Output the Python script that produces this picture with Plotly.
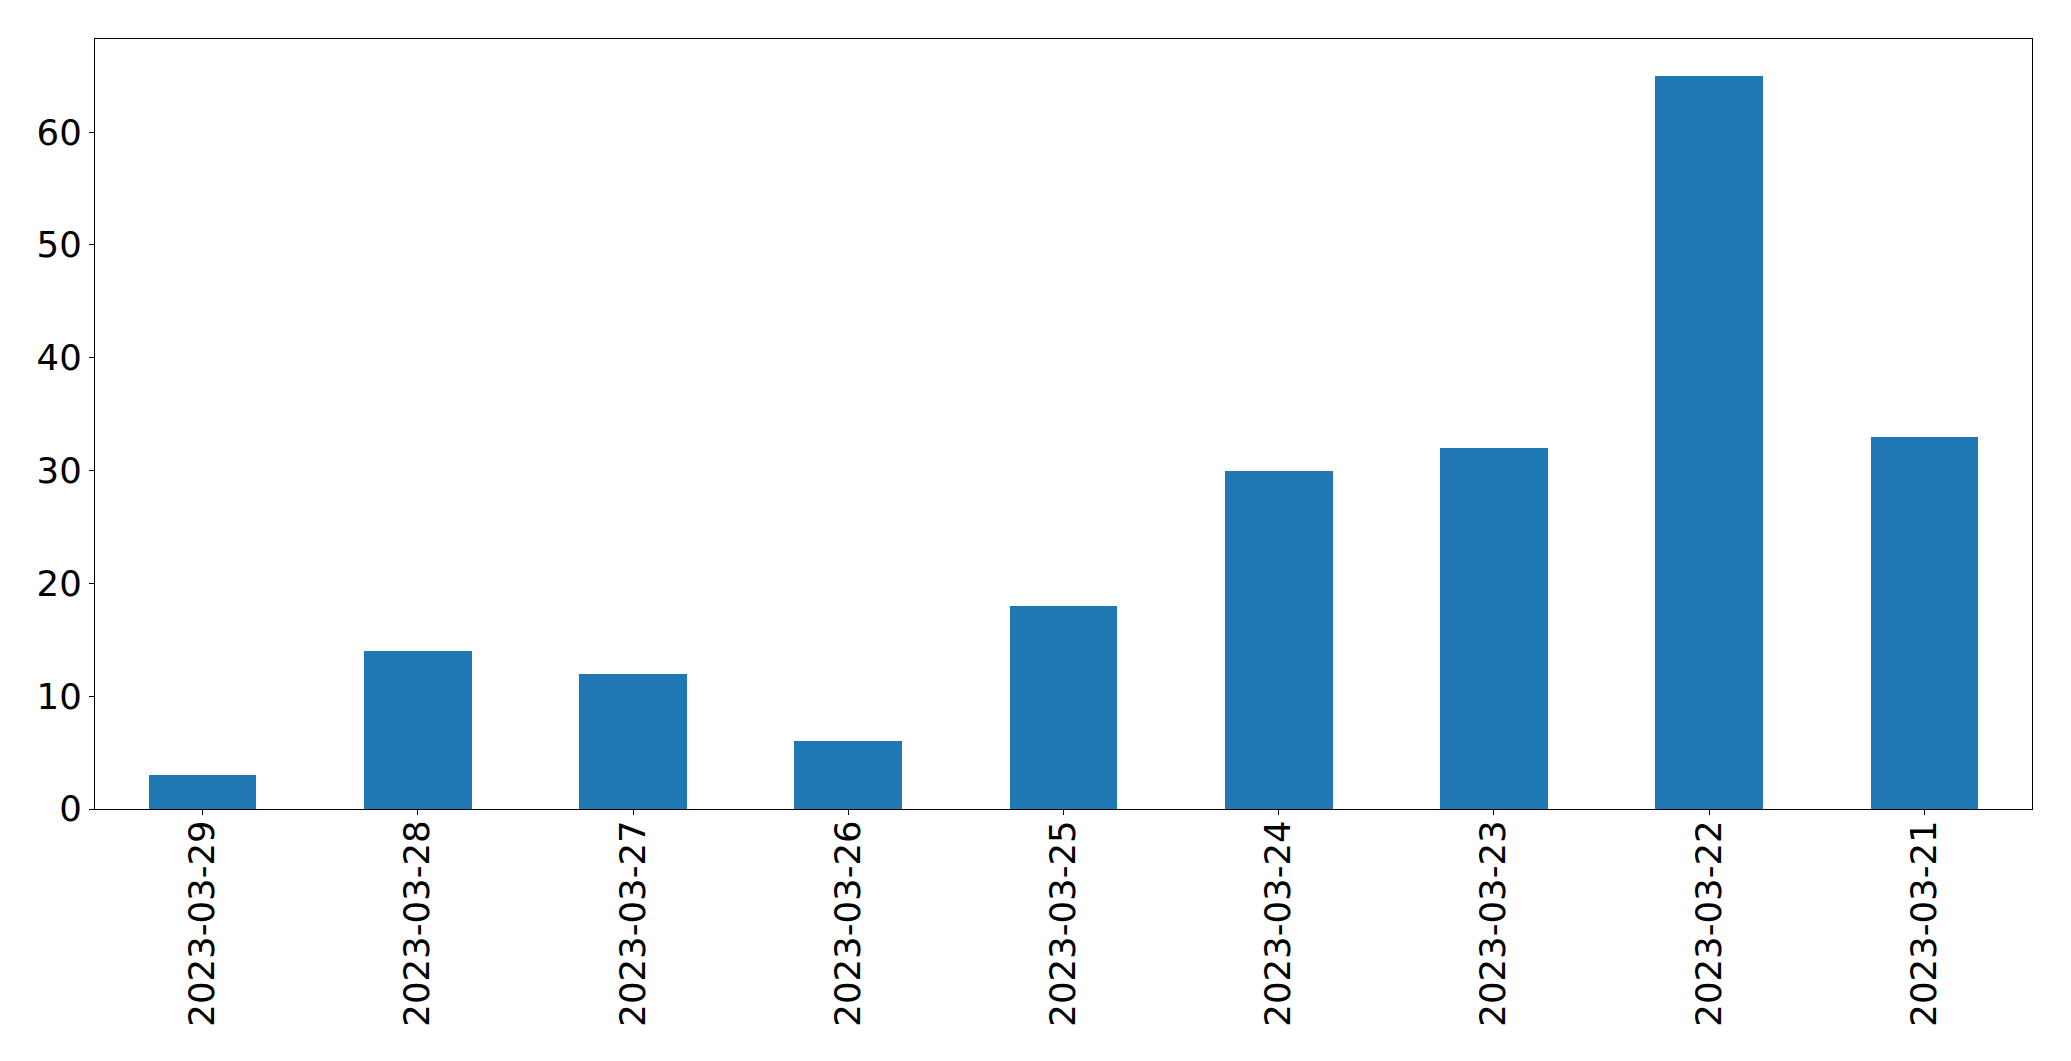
import plotly.graph_objects as go

dates = ["2023-03-29", "2023-03-28", "2023-03-27", "2023-03-26", "2023-03-25",
         "2023-03-24", "2023-03-23", "2023-03-22", "2023-03-21"]
counts = [3, 14, 12, 6, 18, 30, 32, 65, 33]
y_ticks = [0, 10, 20, 30, 40, 50, 60]

fig = go.Figure(go.Bar(x=dates, y=counts, width=0.5, marker=dict(color="#1f77b4", line=dict(width=0))))

# page body has an 8px margin; compensate so the plot area lands where the reference has it
fig.update_layout(
    width=2063, height=1053,
    margin=dict(l=87, r=39, t=31, b=252, pad=0),
    paper_bgcolor="white", plot_bgcolor="white",
    font=dict(family="DejaVu Sans", size=35.5, color="black"),
    showlegend=False,
    bargap=0,
)
fig.update_xaxes(
    type="category", range=[-0.5, len(dates) - 0.5],
    showline=True, linecolor="black", linewidth=1.3, mirror=True,
    ticks="outside", ticklen=5, tickwidth=1.3, tickcolor="black",
    tickangle=-90, showgrid=False, zeroline=False,
    ticklabelstandoff=-9,
)
fig.update_yaxes(
    range=[0, max(counts) * 1.05], tickvals=y_ticks,
    showline=True, linecolor="black", linewidth=1.3, mirror=True,
    ticks="outside", ticklen=5, tickwidth=1.3, tickcolor="black",
    showgrid=False, zeroline=False,
)

fig.write_html("out.html")
